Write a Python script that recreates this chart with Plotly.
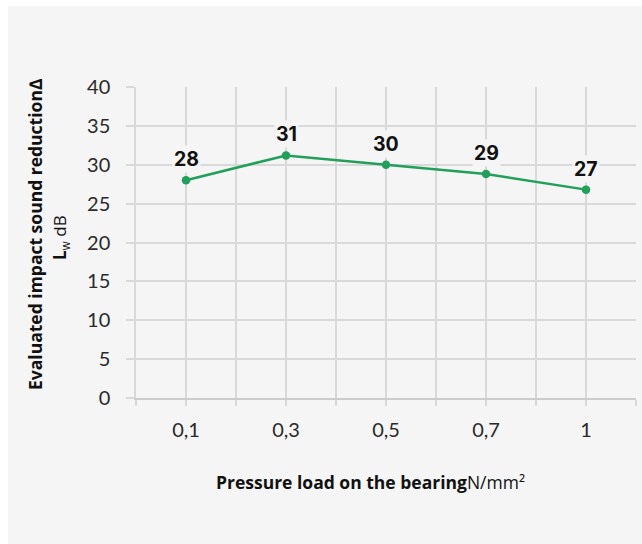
import plotly.graph_objects as go

categories = ["0,1", "0,3", "0,5", "0,7", "1"]
values = [28.0, 31.2, 30.0, 28.8, 26.8]
y_ticks = [0, 5, 10, 15, 20, 25, 30, 35, 40]

GREEN = "#22a05b"
PANEL = "#f5f5f5"
GRID = "#d9d9d9"

# page offset of the figure (body margin): left 8, top 6
OX, OY = 8, 6
W, H = 642 - OX, 544 - OY
L, R, T, B = 136 - OX, 642 - 636, 87 - OY, 544 - 398
pw, ph = W - L - R, H - T - B


def px_x(X):
    return (X - OX - L) / pw


def px_y(Y):
    return (T + ph - (Y - OY)) / ph


xs = list(range(len(categories)))

fig = go.Figure()
fig.add_trace(go.Scatter(
    x=xs, y=values, mode="lines+markers",
    line=dict(color=GREEN, width=2.5),
    marker=dict(color=GREEN, size=8.5),
    hoverinfo="skip", showlegend=False,
))

for xi, v in zip(xs, values):
    fig.add_annotation(
        x=xi, y=v, xref="x", yref="y", text=f"<b>{v:.0f}</b>",
        showarrow=False, yshift=21, bgcolor=PANEL,
        font=dict(family="Inter", size=19.5, color="#111111"),
        borderpad=1,
    )

fig.add_annotation(
    xref="paper", yref="paper", x=px_x(35), y=px_y(234),
    text="<b>Evaluated impact sound reduction∆</b>",
    textangle=-90, showarrow=False, xanchor="center", yanchor="middle",
    font=dict(family="Open Sans", size=17.5, color="#111111"),
)
fig.add_annotation(
    xref="paper", yref="paper", x=px_x(60), y=px_y(238),
    text="<b>L</b><sub>w</sub> dB",
    textangle=-90, showarrow=False, xanchor="center", yanchor="middle",
    font=dict(family="Open Sans", size=17, color="#111111"),
)
fig.add_annotation(
    xref="paper", yref="paper", x=px_x(370), y=px_y(482),
    text="<b>Pressure load on the bearing</b>N/mm²",
    showarrow=False, xanchor="center", yanchor="middle",
    font=dict(family="Open Sans", size=17.5, color="#111111"),
)

fig.update_layout(
    width=W, height=H,
    margin=dict(l=L, r=R, t=T, b=B, pad=0),
    paper_bgcolor=PANEL, plot_bgcolor=PANEL,
    xaxis=dict(
        range=[-0.5, len(categories) - 0.5],
        tickvals=xs, ticktext=categories,
        showgrid=True, gridcolor=GRID, gridwidth=1.5,
        ticks="outside", ticklen=6, tickcolor=GRID, tickwidth=1.5,
        showline=True, linecolor="#cccccc", linewidth=1.5,
        zeroline=False,
        minor=dict(tick0=-0.5, dtick=1, showgrid=True, gridcolor=GRID, gridwidth=1.5,
                   ticks="outside", ticklen=6, tickcolor=GRID, tickwidth=1.5),
        tickfont=dict(family="Lato", size=20, color="#2a2a2a"),
        ticklabelstandoff=7,
        fixedrange=True,
    ),
    yaxis=dict(
        range=[0, 40], tickvals=y_ticks,
        showgrid=True, gridcolor=GRID, gridwidth=1.5,
        ticks="outside", ticklen=8, tickcolor=GRID, tickwidth=1.5,
        showline=True, linecolor=GRID, linewidth=1.5,
        zeroline=False,
        tickfont=dict(family="Lato", size=20, color="#2a2a2a"),
        ticklabelstandoff=12,
        fixedrange=True,
    ),
)

fig.write_html(
    "out.html",
    post_script="document.body.style.margin='6px 0 0 8px';",
)
